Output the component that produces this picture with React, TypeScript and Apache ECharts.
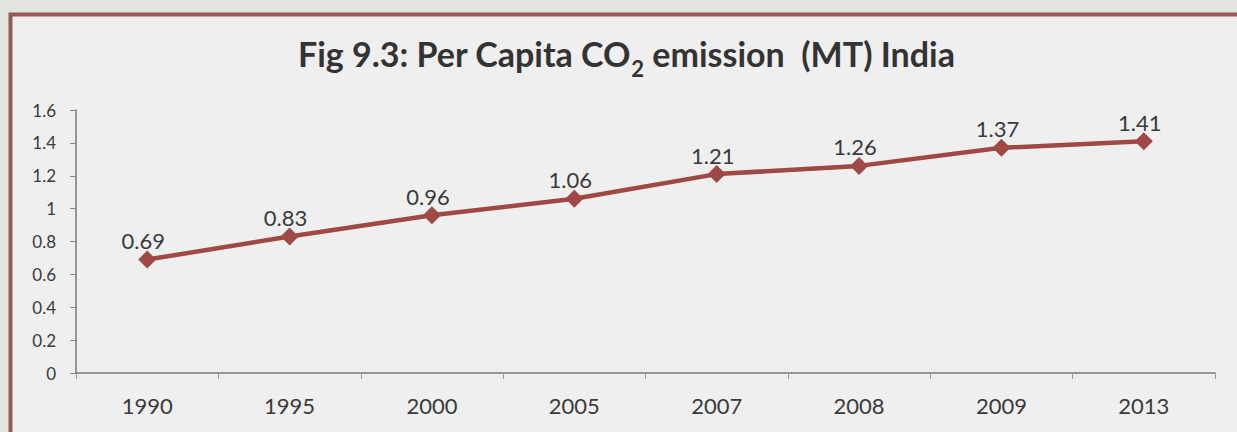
import React, { useEffect, useRef } from "react";
import * as echarts from "echarts";

const years = ["1990", "1995", "2000", "2005", "2007", "2008", "2009", "2013"];
const perCapita = [0.69, 0.83, 0.96, 1.06, 1.21, 1.26, 1.37, 1.41];
const yTicks = { min: 0, max: 1.6, interval: 0.2 };

export default function App() {
  const ref = useRef<HTMLDivElement>(null);
  useEffect(() => {
    const chart = echarts.init(ref.current!, null, { renderer: "svg" });
    chart.setOption({
      animation: false,
      backgroundColor: "#e2e5dd",
      graphic: [
        {
          type: "rect",
          z: -10,
          shape: { x: 10.5, y: 14.5, width: 1240, height: 430 },
          style: { fill: "#efefef", stroke: "#955a58", lineWidth: 4 },
          silent: true,
        },
      ],
      title: {
        text: "{a|Fig 9.3: Per Capita CO}{s|2}{a| emission  (MT) India}",
        left: 293,
        top: 31,
        textStyle: {
          rich: {
            a: { fontFamily: "Lato", fontWeight: "bold", fontSize: 34, color: "#333333" },
            s: { fontFamily: "Lato", fontWeight: "bold", fontSize: 22, color: "#333333", verticalAlign: "bottom", padding: [0, 0, -9, 0] },
          },
        },
      },
      grid: { left: 76, right: 22, top: 110, bottom: 59 },
      xAxis: {
        type: "category",
        data: years,
        boundaryGap: true,
        axisLine: { lineStyle: { color: "#777777", width: 1.5 } },
        axisTick: { show: true, length: 6, alignWithLabel: false, lineStyle: { color: "#999999" } },
        axisLabel: { fontFamily: "Lato", fontSize: 22, color: "#3a3a3a", margin: 21 },
      },
      yAxis: {
        type: "value",
        min: yTicks.min,
        max: yTicks.max,
        interval: yTicks.interval,
        axisLine: { show: true, lineStyle: { color: "#777777", width: 1.5 } },
        axisTick: { show: true, length: 6, lineStyle: { color: "#888888" } },
        splitLine: { show: false },
        axisLabel: { fontFamily: "Lato", fontSize: 17, color: "#3a3a3a", margin: 20 },
      },
      series: [
        {
          type: "line",
          data: perCapita,
          symbol: "diamond",
          symbolSize: 18,
          itemStyle: { color: "#a04844" },
          lineStyle: { color: "#a04844", width: 4.5 },
          label: {
            show: true,
            position: "top",
            distance: -1,
            offset: [-4, 0],
            fontFamily: "Lato",
            fontSize: 22,
            color: "#3a3a3a",
          },
        },
      ],
    });
    return () => chart.dispose();
  }, []);
  return (
    <div style={{ position: "fixed", left: 0, top: 0, width: 1237, height: 432 }}>
      <div ref={ref} style={{ width: 1237, height: 432 }} />
    </div>
  );
}
